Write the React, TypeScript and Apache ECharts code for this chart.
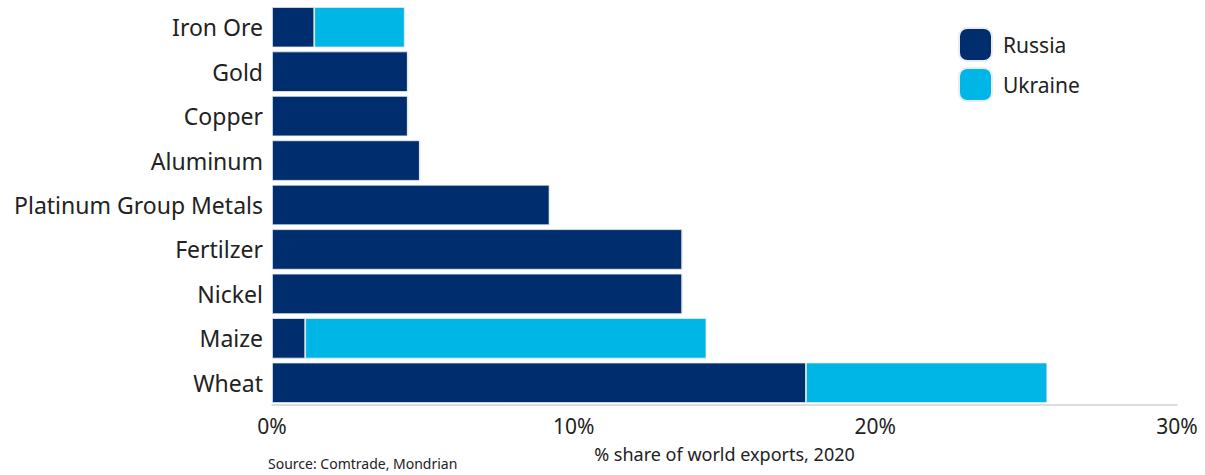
import React, { useEffect, useRef } from "react";
import * as echarts from "echarts";

const categories = ["Wheat", "Maize", "Nickel", "Fertilzer", "Platinum Group Metals", "Aluminum", "Copper", "Gold", "Iron Ore"];
const russia = [17.7, 1.1, 13.6, 13.6, 9.2, 4.9, 4.5, 4.5, 1.4];
const ukraine = [8.0, 13.3, 0, 0, 0, 0, 0, 0, 3.0];
const tickValues = [0, 10, 20, 30];

const FONT = "'Noto Sans', Lato, sans-serif";

export default function App() {
  const ref = useRef<HTMLDivElement>(null);
  useEffect(() => {
    if (!ref.current) return;
    const chart = echarts.init(ref.current, null, { renderer: "svg" });
    chart.setOption({
      animation: false,
      textStyle: { fontFamily: FONT },
      grid: { left: 272, right: 28, top: 5, bottom: 70, containLabel: false },
      legend: {
        orient: "vertical",
        left: 953,
        top: 22,
        icon: "roundRect",
        itemWidth: 33,
        itemHeight: 33,
        itemGap: 5,
        textStyle: { fontSize: 21, color: "#222", fontFamily: FONT, padding: [0, 0, 0, 6] },
        data: ["Russia", "Ukraine"],
      },
      xAxis: {
        type: "value",
        min: tickValues[0],
        max: tickValues[tickValues.length - 1],
        interval: 10,
        axisLine: { show: true, lineStyle: { color: "#d0d3d8", width: 1.5 } },
        axisTick: { show: false },
        splitLine: { show: false },
        axisLabel: { formatter: "{value}%", fontSize: 21, color: "#222", margin: 10, fontFamily: FONT },
        name: "% share of world exports, 2020",
        nameLocation: "middle",
        nameGap: 40,
        nameTextStyle: { fontSize: 18, color: "#222", fontFamily: FONT },
      },
      yAxis: {
        type: "category",
        data: categories,
        axisLine: { show: false },
        axisTick: { show: false },
        axisLabel: { fontSize: 23, color: "#222", margin: 9, fontFamily: FONT },
      },
      series: [
        {
          name: "Russia",
          type: "bar",
          stack: "total",
          data: russia,
          barCategoryGap: "9%",
          itemStyle: { color: "#002d6e", borderColor: "#e9edf3", borderWidth: 0.8 },
        },
        {
          name: "Ukraine",
          type: "bar",
          stack: "total",
          data: ukraine,
          itemStyle: { color: "#00b6e6", borderColor: "#e9edf3", borderWidth: 0.8 },
        },
      ],
      graphic: [
        {
          type: "text",
          left: 268,
          top: 456,
          style: { text: "Source: Comtrade, Mondrian", fontSize: 14, fill: "#222", fontFamily: FONT },
        },
      ],
    });
    return () => chart.dispose();
  }, []);
  return <div ref={ref} style={{ width: 1205, height: 475, position: "absolute", left: 0, top: 0, background: "#fff" }} />;
}
